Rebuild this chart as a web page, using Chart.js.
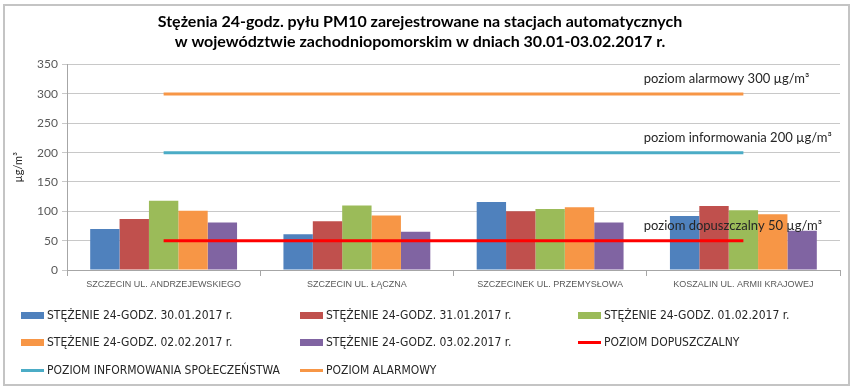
<!DOCTYPE html>
<html>
<head>
<meta charset="utf-8">
<script src="https://cdn.jsdelivr.net/npm/chart.js@4"></script>
<style>
  body { margin: 0; background: #fff; }
  #wrap { position: relative; width: 853px; height: 390px; }
  #frame { position: absolute; left: 3px; top: 4px; width: 843px; height: 378px; border: 2px solid #c4c4c4; }
  canvas { position: absolute; left: 0; top: 0; }
  #legend { position: absolute; left: 0; top: 0; width: 853px; height: 390px; pointer-events: none;
            font-family: "DejaVu Sans Condensed", "Liberation Sans Narrow", Lato, sans-serif; font-size: 12px; color: #262626; }
  .item { position: absolute; display: flex; align-items: center; white-space: nowrap; transform: translateY(-50%); }
  .sw { display: inline-block; width: 23px; margin-right: 3px; }
</style>
</head>
<body>
<div id="wrap">
  <div id="frame"></div>
  <canvas id="chart" width="853" height="390"></canvas>
  <div id="legend"></div>
</div>
<script>
document.addEventListener("DOMContentLoaded", function () {
    const categories = ["SZCZECIN UL. ANDRZEJEWSKIEGO", "SZCZECIN UL. ŁĄCZNA", "SZCZECINEK UL. PRZEMYSŁOWA", "KOSZALIN UL. ARMII KRAJOWEJ"];
    const stez3001 = [70, 61, 116, 92];
    const stez3101 = [87, 83, 100, 109];
    const stez0102 = [118, 110, 104, 102];
    const stez0202 = [101, 93, 107, 95];
    const stez0302 = [81, 65, 81, 67];
    const poziomDopuszczalny = [50, 50, 50, 50];
    const poziomInformowania = [200, 200, 200, 200];
    const poziomAlarmowy = [300, 300, 300, 300];
    const yTicks = [0, 50, 100, 150, 200, 250, 300, 350];

    function bar(label, data, color) {
        return { type: "bar", label: label, data: data, backgroundColor: color, order: 2,
                 categoryPercentage: 0.76, barPercentage: 1.0 };
    }
    function line(label, data, color) {
        return { type: "line", label: label, data: data, borderColor: color, backgroundColor: color,
                 borderWidth: 3, pointRadius: 0, fill: false, tension: 0, order: 1 };
    }

    const datasets = [
        bar("STĘŻENIE 24-GODZ. 30.01.2017 r.", stez3001, "#4f81bd"),
        bar("STĘŻENIE 24-GODZ. 31.01.2017 r.", stez3101, "#c0504d"),
        bar("STĘŻENIE 24-GODZ. 01.02.2017 r.", stez0102, "#9bbb59"),
        bar("STĘŻENIE 24-GODZ. 02.02.2017 r.", stez0202, "#f79646"),
        bar("STĘŻENIE 24-GODZ. 03.02.2017 r.", stez0302, "#8064a2"),
        line("POZIOM DOPUSZCZALNY", poziomDopuszczalny, "#ff0000"),
        line("POZIOM INFORMOWANIA SPOŁECZEŃSTWA", poziomInformowania, "#4bacc6"),
        line("POZIOM ALARMOWY", poziomAlarmowy, "#f79646")
    ];

    // level captions drawn above each threshold line
    const captions = [
        { value: 300, text: "poziom alarmowy 300 µg/m³" },
        { value: 200, text: "poziom informowania 200 µg/m³" },
        { value: 50, text: "poziom dopuszczalny 50 µg/m³" }
    ];
    const captionPlugin = {
        id: "captions",
        afterDatasetsDraw(chart) {
            const ctx = chart.ctx, x = chart.scales.x, y = chart.scales.y;
            const left = (x.getPixelForValue(2) + x.getPixelForValue(3)) / 2 - 3;
            ctx.save();
            ctx.font = "13px Lato, sans-serif";
            ctx.fillStyle = "#262626";
            ctx.textBaseline = "middle";
            captions.forEach(function (c) {
                ctx.fillText(c.text, left, y.getPixelForValue(c.value) - 15);
            });
            ctx.restore();
        }
    };

    const chart = new Chart(document.getElementById("chart"), {
        type: "bar",
        data: { labels: categories, datasets: datasets },
        plugins: [captionPlugin],
        options: {
            responsive: false,
            animation: false,
            layout: { padding: { left: 0, right: 13, top: 0, bottom: 0 } },
            plugins: {
                legend: { display: false },
                tooltip: { enabled: false },
                title: {
                    display: true,
                    text: ["Stężenia 24-godz. pyłu PM10 zarejestrowane na stacjach automatycznych",
                           "w województwie zachodniopomorskim w dniach 30.01-03.02.2017 r."],
                    color: "#000",
                    font: { family: "Lato", size: 16, weight: "bold", lineHeight: 1.3 },
                    padding: { top: 11, bottom: 12 }
                }
            },
            scales: {
                x: {
                    grid: { drawOnChartArea: false, drawTicks: true, tickLength: 6, color: "#a6a6a6", offset: true },
                    border: { color: "#a6a6a6" },
                    ticks: { color: "#595959", font: { family: "Liberation Sans", size: 9 }, maxRotation: 0, autoSkip: false, padding: 3 },
                    afterFit(s) { s.height = 120; }
                },
                y: {
                    min: 0, max: 350,
                    afterBuildTicks(s) { s.ticks = yTicks.map(function (v) { return { value: v }; }); },
                    grid: { color: "#c8c8c8", tickLength: 5 },
                    border: { color: "#a6a6a6" },
                    ticks: { color: "#595959", font: { family: "Lato", size: 12 }, padding: 4 },
                    title: { display: true, text: "µg/m³", color: "#262626", font: { family: "Lato", size: 11 }, padding: { top: 12, bottom: 0 } },
                    afterFit(s) { s.width = 67; }
                }
            }
        }
    });

    // legend in three columns, built from the chart's datasets
    const legend = document.getElementById("legend");
    const colX = [21, 300, 578];
    const rowY = [315, 342, 370];
    chart.data.datasets.forEach(function (ds, i) {
        const item = document.createElement("div");
        item.className = "item";
        item.style.left = colX[i % 3] + "px";
        item.style.top = rowY[Math.floor(i / 3)] + "px";
        const sw = document.createElement("span");
        sw.className = "sw";
        sw.style.background = ds.type === "line" ? ds.borderColor : ds.backgroundColor;
        sw.style.height = ds.type === "line" ? "3px" : "7px";
        item.appendChild(sw);
        item.appendChild(document.createTextNode(ds.label));
        legend.appendChild(item);
    });
});
</script>
</body>
</html>
